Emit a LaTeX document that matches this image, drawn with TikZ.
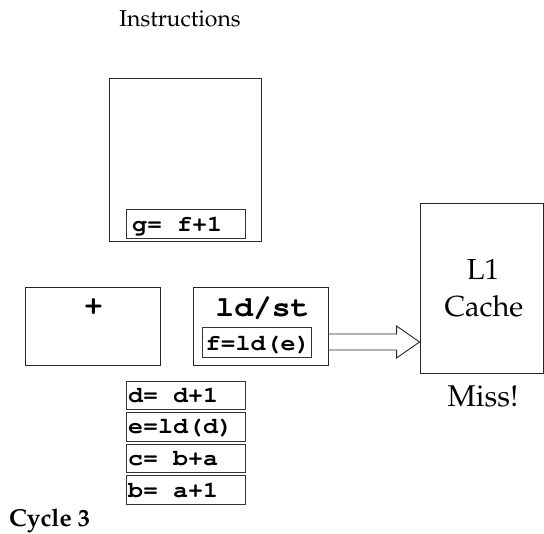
\documentclass[tikz,border=0pt]{standalone}
\usepackage[T1]{fontenc}
\usepackage{fontspec}
\usepackage{graphicx}
\newcommand\palfont{\fontencoding{T1}\fontfamily{ppl}\selectfont}
\newcommand\cour[2]{\scalebox{1.1}[1]{\fontencoding{T1}\fontfamily{pcr}\bfseries\fontsize{#1}{#1}\selectfont #2}}
\usetikzlibrary{calc}
\tikzset{
  box/.style={draw=black!85, line width=0.9pt, inner sep=0pt},
  ibox/.style={draw=black!80, line width=0.8pt, inner sep=0pt, minimum width=119pt, minimum height=28.5pt},
  itext/.style={inner sep=0pt, anchor=base west},
  serif/.style={inner sep=0pt, font=\palfont\fontsize{23}{27}\selectfont},
}
\begin{document}
\begin{tikzpicture}[x=1pt,y=-1pt]
\useasboundingbox (0,0) rectangle (544,534);
% title
\node[serif, anchor=base] (title) at (180,27) {Instructions};
% instruction window
\node[box, minimum width=152pt, minimum height=163pt] (win) at (185,159.5) {};
\node[ibox, minimum height=29pt] (g) at (185.5,223.5) {};
\node[itext] (gt) at (132,231.5) {\cour{22.7}{g= f+1}};
% functional units
\node[box, minimum width=135pt, minimum height=78pt] (plus) at (92.5,326) {};
\node[inner sep=0pt] (plustxt) at (93.5,307.5) {\cour{28.5}{+}};
\node[box, minimum width=135pt, minimum height=78pt] (ldst) at (260.5,326) {};
\node[inner sep=0pt, anchor=base] (ldsttxt) at (262.5,317) {\cour{28.5}{ld/st}};
\node[ibox, minimum width=109pt, minimum height=30pt] (f) at (256.5,342) {};
\node[itext] (ft) at (205.5,350.5) {\cour{22.7}{f=ld(e)}};
% queue
\node[ibox] (d) at (185.5,395.5) {};
\node[itext] (dt) at (128,402.5) {\cour{22.7}{d= d+1}};
\node[ibox] (e) at (185.5,427) {};
\node[itext] (et) at (128,434) {\cour{22.7}{e=ld(d)}};
\node[ibox] (c) at (185.5,458.5) {};
\node[itext] (ct) at (128,466) {\cour{22.7}{c= b+a}};
\node[ibox, minimum height=29pt] (b) at (185.5,490) {};
\node[itext] (bt) at (128,497.5) {\cour{22.7}{b= a+1}};
% cache
\node[box, minimum width=123pt, minimum height=170pt] (l1) at (481.5,288) {};
\node[serif, font=\palfont\fontsize{29}{37}\selectfont, anchor=base] (l1a) at (483,280) {L1};
\node[serif, font=\palfont\fontsize{29}{37}\selectfont, anchor=base] (l1b) at (484,317) {Cache};
\node[serif, font=\palfont\fontsize{30}{34}\selectfont, anchor=base] (miss) at (483,407) {Miss!};
% arrow
\coordinate (as) at (ldst.east |- f.center);
\coordinate (tip) at (l1.west |- f.center);
\draw[black!85, line width=0.9pt, line join=miter]
  ($(as)+(0,-8)$) -- ($(tip)+(-23,-8)$) -- ($(tip)+(-23,-16)$) -- (tip)
  -- ($(tip)+(-23,16)$) -- ($(tip)+(-23,8)$) -- ($(as)+(0,8)$);
% cycle label
\node[inner sep=0pt, anchor=base west, font=\palfont\bfseries\fontsize{24.5}{28}\selectfont] (cycle) at (9,527) {Cycle 3};
\end{tikzpicture}
\end{document}
